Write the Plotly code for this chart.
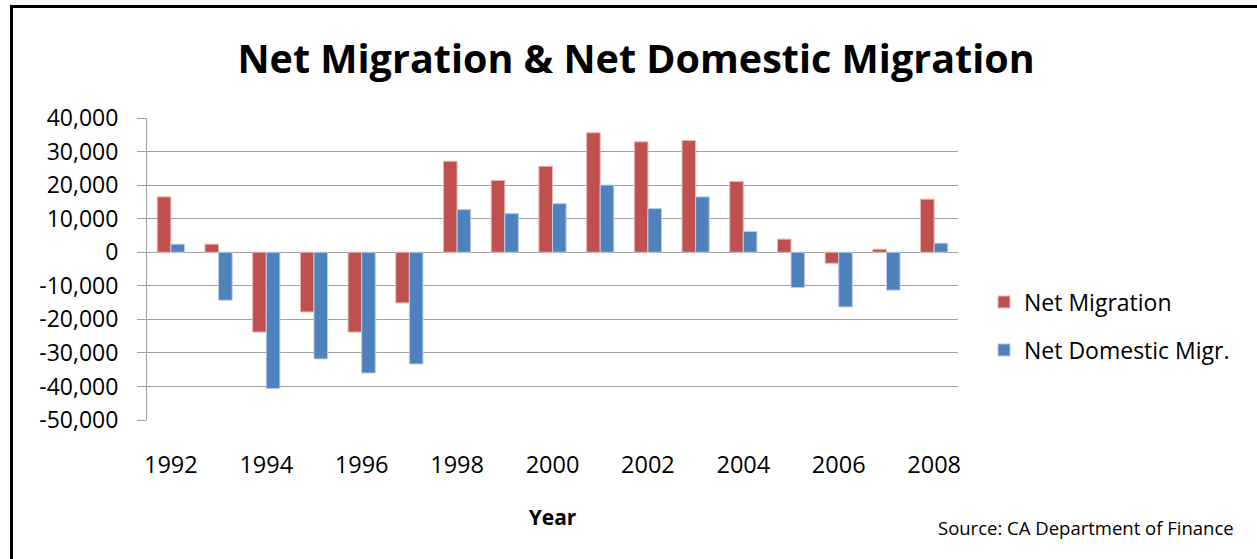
import plotly.graph_objects as go

years = [str(y) for y in range(1992, 2009)]
net_migration = [16500, 2400, -23800, -17800, -23800, -15100, 27100, 21400, 25600,
                 35600, 32900, 33300, 21100, 3900, -3300, 900, 15800]
net_domestic = [2400, -14300, -40600, -31800, -36000, -33300, 12700, 11500, 14500,
                20000, 13000, 16500, 6200, -10500, -16300, -11300, 2700]
tick_years = years[::2]
y_ticks = list(range(-50000, 40001, 10000))
y_tick_text = ["{:,}".format(v) for v in y_ticks]

FONT = "Open Sans"
L, R, T, B = 147, 958, 118, 420
W, H = 1257, 559

def px_x(p):
    return (p - L) / (R - L)

def px_y(p):
    return (B - p) / (B - T)

fig = go.Figure()
fig.add_trace(go.Bar(x=years, y=net_migration, name="Net Migration",
                     marker=dict(color="#C0504D", line=dict(color="#E6B9B8", width=1)),
                     legend="legend"))
fig.add_trace(go.Bar(x=years, y=net_domestic, name="Net Domestic Migr.",
                     marker=dict(color="#4F81BD", line=dict(color="#B9CDE5", width=1)),
                     legend="legend2"))

fig.update_layout(
    width=W, height=H,
    margin=dict(l=L, r=W - R, t=T, b=H - B),
    paper_bgcolor="white", plot_bgcolor="white",
    barmode="group", bargap=0.43, bargroupgap=0,
    font=dict(family=FONT, color="#000000"),
    title=dict(text="<b>Net Migration & Net Domestic Migration</b>",
               font=dict(family=FONT, size=39.5, color="#000000"),
               x=0.506, xanchor="center", y=1 - 59 / H, yanchor="middle"),
    xaxis=dict(type="category", tickmode="array", tickvals=tick_years, ticktext=tick_years,
               showgrid=False, showline=False, ticks="", zeroline=False,
               tickfont=dict(family=FONT, size=23.5, color="#000000"),
               ticklabelstandoff=28,
               title=dict(text="<b>Year</b>", font=dict(family=FONT, size=21, color="#000000"),
                          standoff=31)),
    yaxis=dict(range=[-50000, 40000], tickmode="array", tickvals=y_ticks, ticktext=y_tick_text,
               showgrid=True, gridcolor="#A0A0A0", gridwidth=1,
               zeroline=True, zerolinecolor="#A0A0A0", zerolinewidth=1,
               showline=True, linecolor="#A0A0A0", linewidth=1,
               ticks="outside", ticklen=9, tickcolor="#A0A0A0",
               tickfont=dict(family=FONT, size=23, color="#000000"),
               ticklabelstandoff=14),
    legend=dict(x=px_x(984), y=px_y(302), xanchor="left", yanchor="middle",
                font=dict(family=FONT, size=23, color="#000000"), bgcolor="rgba(0,0,0,0)"),
    legend2=dict(x=px_x(984), y=px_y(350), xanchor="left", yanchor="middle",
                 font=dict(family=FONT, size=23, color="#000000"), bgcolor="rgba(0,0,0,0)"),
    showlegend=True,
)

# Outer border (top and left edges)
fig.add_shape(type="line", xref="paper", yref="paper",
              x0=px_x(11.5), x1=px_x(W + 10), y0=px_y(6.5), y1=px_y(6.5),
              line=dict(color="black", width=3))
fig.add_shape(type="line", xref="paper", yref="paper",
              x0=px_x(11.5), x1=px_x(11.5), y0=px_y(5), y1=px_y(H + 10),
              line=dict(color="black", width=3))

fig.add_annotation(text="Source: CA Department of Finance", xref="paper", yref="paper",
                   x=px_x(1236), y=px_y(527), xanchor="right", yanchor="middle",
                   showarrow=False, font=dict(family=FONT, size=18.5, color="#000000"))

fig.write_html("out.html")
